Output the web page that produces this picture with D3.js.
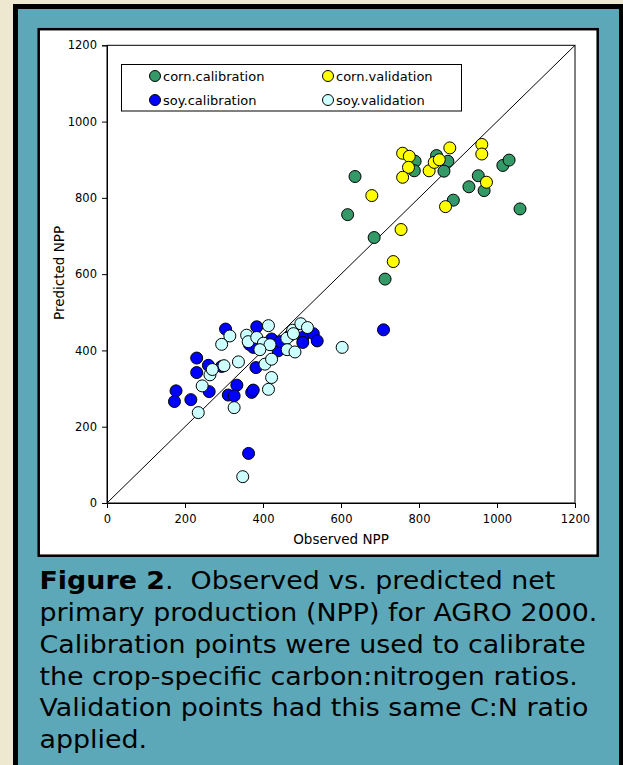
<!DOCTYPE html>
<html>
<head>
<meta charset="utf-8">
<script src="https://cdn.jsdelivr.net/npm/d3@7"></script>
<style>
  html, body { margin: 0; padding: 0; background: #EEE8D0; }
  svg { display: block; }
</style>
</head>
<body>
<script>
// ---- data ----
const xTicks = [0, 200, 400, 600, 800, 1000, 1200];
const yTicks = [0, 200, 400, 600, 800, 1000, 1200];
const seriesNames = ["corn.calibration", "corn.validation", "soy.calibration", "soy.validation"];
const seriesColors = ["#339966", "#FFFF00", "#0000FF", "#CCFFFF"];

const cornCalibration = [
  [636, 856], [617, 756], [685, 696], [713, 587], [790, 896], [788, 871],
  [845, 911], [874, 896], [864, 870], [888, 794], [928, 829], [952, 858],
  [967, 819], [1015, 885], [1031, 899], [1059, 771]
];
const cornValidation = [
  [758, 917], [775, 909], [773, 880], [758, 854], [679, 806], [754, 717],
  [734, 633], [826, 871], [839, 893], [852, 900], [879, 931], [868, 777],
  [961, 940], [961, 915], [973, 841]
];
const soyCalibration = [
  [304, 456], [384, 462], [230, 380], [260, 361], [294, 358], [230, 342],
  [177, 294], [173, 266], [215, 271], [262, 292], [333, 309], [311, 283],
  [326, 281], [371, 290], [375, 296], [382, 355], [363, 130], [365, 416],
  [375, 408], [422, 430], [439, 399], [444, 423], [502, 434], [502, 421],
  [529, 444], [539, 425], [709, 454], [384, 412], [470, 440]
];
const soyValidation = [
  [414, 465], [315, 438], [294, 416], [358, 440], [362, 423], [384, 434],
  [401, 419], [418, 415], [392, 402], [337, 370], [300, 360], [264, 336],
  [244, 307], [234, 237], [326, 250], [405, 364], [422, 377], [422, 329],
  [414, 298], [461, 432], [476, 453], [478, 444], [497, 470], [514, 460],
  [462, 402], [482, 396], [603, 408], [348, 69], [270, 350]
];
const allSeries = [cornCalibration, cornValidation, soyCalibration, soyValidation];

const captionLines = [
  ["Figure 2", ".  Observed vs. predicted net"],
  ["", "primary production (NPP) for AGRO 2000."],
  ["", "Calibration points were used to calibrate"],
  ["", "the crop-specific carbon:nitrogen ratios."],
  ["", "Validation points had this same C:N ratio"],
  ["", "applied."]
];

// ---- drawing ----
const W = 623, H = 765;
const svg = d3.select("body").append("svg").attr("width", W).attr("height", H);
const font = "DejaVu Sans, Verdana, sans-serif";

svg.append("rect").attr("width", W).attr("height", H).attr("fill", "#EEE8D0");
// outer teal frame
svg.append("rect").attr("x", 15.5).attr("y", 6.5).attr("width", 606).attr("height", 820)
  .attr("fill", "#5DA8B8").attr("stroke", "#000").attr("stroke-width", 5);
// white chart panel
svg.append("rect").attr("x", 38.7).attr("y", 29.2).attr("width", 559).attr("height", 526.5)
  .attr("fill", "#fff").attr("stroke", "#000").attr("stroke-width", 2.5);

const x = d3.scaleLinear().domain([0, 1200]).range([107, 575]);
const y = d3.scaleLinear().domain([0, 1200]).range([503, 45.3]);

const g = svg.append("g");
// plot frame
g.append("rect").attr("x", x(0)).attr("y", y(1200))
  .attr("width", x(1200) - x(0)).attr("height", y(0) - y(1200))
  .attr("fill", "none").attr("stroke", "#000").attr("stroke-width", 1);

const fmt = d3.format("d");
const xAxis = g.append("g").attr("transform", `translate(0,${y(0)})`)
  .call(d3.axisBottom(x).tickValues(xTicks).tickFormat(fmt).tickSize(5).tickPadding(7));
const yAxis = g.append("g").attr("transform", `translate(${x(0)},0)`)
  .call(d3.axisLeft(y).tickValues(yTicks).tickFormat(fmt).tickSize(5).tickPadding(5));
[xAxis, yAxis].forEach(a => {
  a.select(".domain").attr("stroke", "#000");
  a.selectAll(".tick line").attr("stroke", "#000");
  a.selectAll("text").attr("font-family", font).attr("font-size", 11.5).attr("fill", "#000");
});

// 1:1 line
g.append("line").attr("x1", x(0)).attr("y1", y(0)).attr("x2", x(1200)).attr("y2", y(1200))
  .attr("stroke", "#000").attr("stroke-width", 1);

// points
allSeries.forEach((data, i) => {
  g.append("g").selectAll("circle").data(data).join("circle")
    .attr("cx", d => x(d[0])).attr("cy", d => y(d[1])).attr("r", 6)
    .attr("fill", seriesColors[i]).attr("stroke", "#000").attr("stroke-width", 1);
});

// axis titles
svg.append("text").attr("x", 341).attr("y", 544).attr("text-anchor", "middle")
  .attr("font-family", font).attr("font-size", 13.5).text("Observed NPP");
svg.append("text").attr("transform", "translate(64,273) rotate(-90)").attr("text-anchor", "middle")
  .attr("font-family", font).attr("font-size", 13.5).text("Predicted NPP");

// legend
const leg = svg.append("g");
leg.append("rect").attr("x", 121.5).attr("y", 64.5).attr("width", 340).attr("height", 46.5)
  .attr("fill", "#fff").attr("stroke", "#000").attr("stroke-width", 1);
const legPos = [[155, 76], [328, 76], [155, 100], [328, 100]];
seriesNames.forEach((name, i) => {
  const [lx, ly] = legPos[i];
  leg.append("circle").attr("cx", lx).attr("cy", ly).attr("r", 5.5)
    .attr("fill", seriesColors[i]).attr("stroke", "#000").attr("stroke-width", 1);
  leg.append("text").attr("x", lx + 8).attr("y", ly + 4.5)
    .attr("font-family", font).attr("font-size", 13).text(name);
});

// caption
const cap = svg.append("g");
const baselines = [589, 621, 653, 685, 716, 748];
const capX = 39.5;
const capTexts = [];
captionLines.forEach((parts, i) => {
  const t = cap.append("text").attr("x", capX).attr("y", baselines[i])
    .attr("font-family", font).attr("font-size", 24).attr("fill", "#000")
    .style("white-space", "pre");
  if (parts[0]) t.append("tspan").attr("font-weight", "bold").text(parts[0]);
  t.append("tspan").text(parts[1]);
  capTexts.push(t);
});
// stretch horizontally so the widest line spans like the reference (Verdana is wider)
const refW = 558;
const w2 = capTexts[1].node().getComputedTextLength();
const s = w2 > 0 ? refW / w2 : 1;
cap.attr("transform", `translate(${capX},0) scale(${s},1) translate(${-capX},0)`);
</script>
</body>
</html>
